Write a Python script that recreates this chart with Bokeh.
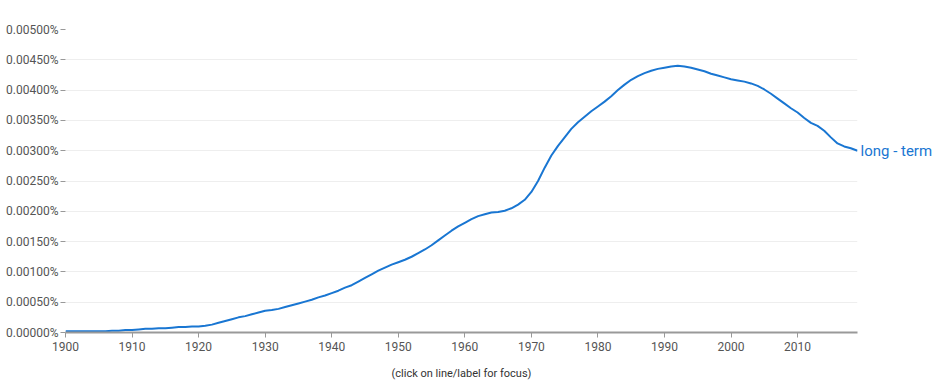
from bokeh.plotting import figure
from bokeh.models import FixedTicker, PrintfTickFormatter, Range1d, LinearAxis
from bokeh.embed import file_html
from bokeh.resources import INLINE

years = list(range(1900, 2020))
values = [
    0.00002, 0.00002, 0.00002, 0.00002, 0.00002, 0.00002, 0.00002, 0.00003, 0.00003, 0.00004,
    0.00004, 0.00005, 0.00006, 0.00006, 0.00007, 0.00007, 0.00008, 0.00009, 0.00009, 0.00010,
    0.00010, 0.00011, 0.00013, 0.00016, 0.00019, 0.00022, 0.00025, 0.00027, 0.00030, 0.00033,
    0.00036, 0.00037, 0.00039, 0.00042, 0.00045, 0.00048, 0.00051, 0.00054, 0.00058, 0.00061,
    0.00065, 0.00069, 0.00074, 0.00078, 0.00084, 0.00090, 0.00096, 0.00102, 0.00107, 0.00112,
    0.00116, 0.00120, 0.00125, 0.00131, 0.00137, 0.00144, 0.00152, 0.00160, 0.00168, 0.00175,
    0.00181, 0.00187, 0.00192, 0.00195, 0.00198, 0.00199, 0.00201, 0.00205, 0.00211, 0.00219,
    0.00232, 0.00250, 0.00272, 0.00292, 0.00308, 0.00322, 0.00336, 0.00347, 0.00356, 0.00365,
    0.00373, 0.00381, 0.00390, 0.00400, 0.00409, 0.00417, 0.00423, 0.00428, 0.00432, 0.00435,
    0.00437, 0.00439, 0.00440, 0.00439, 0.00437, 0.00434, 0.00431, 0.00427, 0.00424, 0.00421,
    0.00418, 0.00416, 0.00414, 0.00411, 0.00407, 0.00401, 0.00394, 0.00386, 0.00378, 0.00370,
    0.00363, 0.00354, 0.00346, 0.00341, 0.00333, 0.00322, 0.00312, 0.00307, 0.00304, 0.00300,
]
series_name = "long - term"
x_ticks = [1900, 1910, 1920, 1930, 1940, 1950, 1960, 1970, 1980, 1990, 2000, 2010]
y_ticks = [0.0, 0.0005, 0.001, 0.0015, 0.002, 0.0025, 0.003, 0.0035, 0.004, 0.0045, 0.005]
caption = "(click on line/label for focus)"

FONT = "Roboto"
BLUE = "#1976d2"
TXT = "#555555"

p = figure(width=940, height=385, output_backend="svg", toolbar_location=None,
           x_range=Range1d(1900, 2019), y_range=Range1d(0, 0.005),
           min_border_left=65, min_border_right=83, min_border_top=29, min_border_bottom=53)
p.outline_line_color = None
p.background_fill_color = "white"
p.border_fill_color = "white"

p.line(years, values, line_color=BLUE, line_width=2)

p.xgrid.grid_line_color = None
p.ygrid.grid_line_color = "#eeeeee"
p.ygrid.grid_line_width = 1

p.xaxis.ticker = FixedTicker(ticks=x_ticks)
p.xaxis.minor_tick_line_color = None
p.xaxis.axis_line_color = "#999999"
p.xaxis.axis_line_width = 2
p.xaxis.major_tick_line_color = "#999999"
p.xaxis.major_tick_out = 5
p.xaxis.major_tick_in = 0
p.xaxis.major_label_standoff = 4
p.xaxis.major_label_text_font = FONT
p.xaxis.major_label_text_font_size = "12px"
p.xaxis.major_label_text_color = TXT
p.xaxis.axis_label = caption
p.xaxis.axis_label_text_font = FONT
p.xaxis.axis_label_text_font_style = "normal"
p.xaxis.axis_label_text_font_size = "11px"
p.xaxis.axis_label_text_color = "#333333"
p.xaxis.axis_label_standoff = 13

p.yaxis.ticker = FixedTicker(ticks=y_ticks)
p.yaxis.formatter = PrintfTickFormatter(format="%.5f%%")
p.yaxis.minor_tick_line_color = None
p.yaxis.axis_line_color = None
p.yaxis.major_tick_line_color = "#999999"
p.yaxis.major_tick_out = 5
p.yaxis.major_tick_in = 0
p.yaxis.major_label_standoff = 2
p.yaxis.major_label_text_font = FONT
p.yaxis.major_label_text_font_size = "12px"
p.yaxis.major_label_text_color = TXT

# series label at the line's end, drawn as a right-hand axis tick label
name_axis = LinearAxis(ticker=FixedTicker(ticks=[values[-1]]),
                       formatter=PrintfTickFormatter(format=series_name))
name_axis.axis_line_color = None
name_axis.major_tick_line_color = None
name_axis.minor_tick_line_color = None
name_axis.major_tick_out = 0
name_axis.major_tick_in = 0
name_axis.major_label_standoff = 3
name_axis.major_label_text_font = FONT
name_axis.major_label_text_font_size = "15px"
name_axis.major_label_text_color = BLUE
name_axis.major_label_text_baseline = "alphabetic"
p.add_layout(name_axis, "right")

open("out.html", "w").write(file_html(p, INLINE))
